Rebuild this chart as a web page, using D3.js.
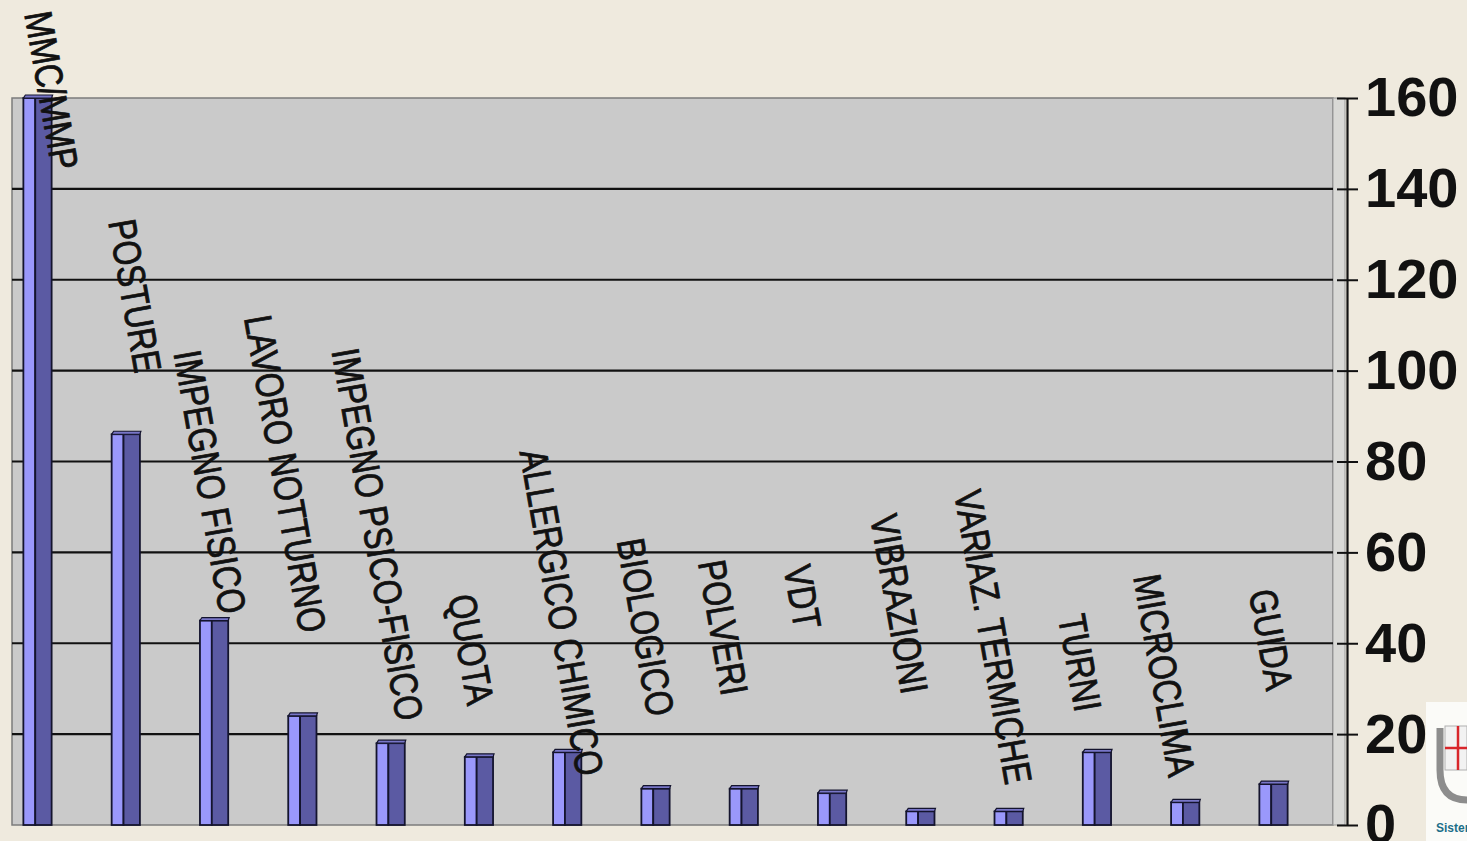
<!DOCTYPE html>
<html>
<head>
<meta charset="utf-8">
<script src="https://d3js.org/d3.v7.min.js"></script>
<style>
  html, body { margin: 0; padding: 0; background: #efeade; overflow: hidden; }
  svg { display: block; }
</style>
</head>
<body>
<div id="container"></div>
<script>
  // DATA
  const categories = [
    "MMC/MMP", "POSTURE", "IMPEGNO FISICO", "LAVORO NOTTURNO",
    "IMPEGNO PSICO-FISICO", "QUOTA", "ALLERGICO CHIMICO", "BIOLOGICO",
    "POLVERI", "VDT", "VIBRAZIONI", "VARIAZ. TERMICHE", "TURNI",
    "MICROCLIMA", "GUIDA"
  ];
  const values = [160, 86, 45, 24, 18, 15, 16, 8, 8, 7, 3, 3, 16, 5, 9];
  // where each category label starts, in axis units, and its shift in bar steps
  const labelAt = [178.5, 132.7, 103.9, 111.6, 104.3, 50.2, 82.1, 62.5, 57.7, 56.6, 67.8, 73.1, 45.8, 54.6, 51.3];
  const labelShift = [-0.15, -0.2, -0.46, -0.66, -0.67, -0.35, -0.54, -0.44, -0.52, -0.55, -0.57, -0.62, -0.44, -0.59, -0.28];
  const yTicks = [0, 20, 40, 60, 80, 100, 120, 140, 160];

  // CONTAINER
  const W = 1467, H = 841;
  const plot = { left: 12, right: 1333, top: 98, bottom: 825 };
  const axisX = 1347;

  const svg = d3.select("#container").append("svg")
    .attr("width", W).attr("height", H);

  svg.append("rect").attr("width", W).attr("height", H).attr("fill", "#efeade");

  // SCALES
  const x = d3.scalePoint().domain(categories).range([37.5, 1273.5]);
  const y = d3.scaleLinear().domain([0, 160]).range([plot.bottom, plot.top]);
  const step = x.step();

  // LOGO CORNER (drawn first, the axis labels sit on top of it)
  const logo = svg.append("g");
  logo.append("rect").attr("x", 1426).attr("y", 702).attr("width", 41).attr("height", 139).attr("fill", "#fbfbf8");
  logo.append("path")
    .attr("d", "M1440,728 L1440,770 Q1440,800 1467,800")
    .attr("fill", "none").attr("stroke", "#8d8d8d").attr("stroke-width", 7);
  logo.append("rect").attr("x", 1445).attr("y", 726).attr("width", 22).attr("height", 44)
    .attr("fill", "#f2f2f2").attr("stroke", "#b0b0b0").attr("stroke-width", 1);
  logo.append("line").attr("x1", 1458).attr("x2", 1458).attr("y1", 726).attr("y2", 770)
    .attr("stroke", "#d8262b").attr("stroke-width", 2.5);
  logo.append("line").attr("x1", 1445).attr("x2", 1467).attr("y1", 748).attr("y2", 748)
    .attr("stroke", "#d8262b").attr("stroke-width", 2.5);
  logo.append("text").attr("x", 1436).attr("y", 832)
    .attr("fill", "#1b6f8a")
    .style("font-family", "'Liberation Sans', Arial, sans-serif")
    .style("font-size", "12px").style("font-weight", "bold")
    .text("Sister");

  // PLOT AREA (back wall + side wall)
  svg.append("rect")
    .attr("x", plot.left).attr("y", plot.top)
    .attr("width", plot.right - plot.left).attr("height", plot.bottom - plot.top)
    .attr("fill", "#cacaca").attr("stroke", "#7c7c7c").attr("stroke-width", 1.5);

  svg.append("rect")
    .attr("x", plot.right).attr("y", plot.top)
    .attr("width", axisX - plot.right - 2).attr("height", plot.bottom - plot.top)
    .attr("fill", "#d9d9d6").attr("stroke", "#9a9a9a").attr("stroke-width", 1);

  // GRIDLINES
  svg.append("g").selectAll("line")
    .data(yTicks.filter(d => d > 0 && d < 160))
    .enter().append("line")
    .attr("x1", plot.left).attr("x2", plot.right)
    .attr("y1", d => y(d)).attr("y2", d => y(d))
    .attr("stroke", "#111").attr("stroke-width", 2.2);

  // RIGHT AXIS
  const axis = svg.append("g")
    .attr("transform", "translate(" + axisX + ",0)")
    .call(d3.axisRight(y).tickValues(yTicks).tickSize(11).tickSizeOuter(0).tickPadding(7));
  axis.select(".domain").attr("stroke", "#111").attr("stroke-width", 2.2);
  axis.selectAll(".tick line").attr("x1", -10).attr("stroke", "#111").attr("stroke-width", 2);
  axis.selectAll(".tick text")
    .attr("fill", "#111")
    .style("font-family", "'Liberation Sans', Arial, sans-serif")
    .style("font-weight", "bold")
    .style("font-size", "56px");

  // BARS (3D-looking columns)
  const barW = step * 0.32;
  const frontW = barW * 0.42;
  const bars = svg.append("g").selectAll("g")
    .data(categories.map((c, i) => ({ c: c, v: values[i] })))
    .enter().append("g");

  bars.append("rect")
    .attr("x", d => x(d.c) - barW / 2)
    .attr("y", d => y(d.v))
    .attr("width", frontW)
    .attr("height", d => y(0) - y(d.v))
    .attr("fill", "#9a98fb").attr("stroke", "#14142e").attr("stroke-width", 1.8);

  bars.append("rect")
    .attr("x", d => x(d.c) - barW / 2 + frontW)
    .attr("y", d => y(d.v))
    .attr("width", barW - frontW)
    .attr("height", d => y(0) - y(d.v))
    .attr("fill", "#5b5aa3").attr("stroke", "#14142e").attr("stroke-width", 1.8);

  bars.append("path")
    .attr("d", d => {
      const x0 = x(d.c) - barW / 2, x1 = x0 + barW, yt = y(d.v);
      return "M" + x0 + "," + yt + "L" + (x0 + 2) + "," + (yt - 3) +
        "L" + (x1 + 1) + "," + (yt - 3) + "L" + x1 + "," + yt + "Z";
    })
    .attr("fill", "#7876c8").attr("stroke", "#14142e").attr("stroke-width", 1.2);

  // CATEGORY LABELS
  svg.append("g").selectAll("text")
    .data(categories)
    .enter().append("text")
    .attr("transform", (d, i) =>
      "translate(" + (x(d) + labelShift[i] * step) + "," + y(labelAt[i]) + ") rotate(80) scale(1,1.22)")
    .attr("fill", "#111")
    .attr("stroke", "#111").attr("stroke-width", 0.7)
    .style("font-family", "'Liberation Sans', Arial, sans-serif")
    .style("font-size", "32px")
    .text(d => d);
</script>
</body>
</html>
